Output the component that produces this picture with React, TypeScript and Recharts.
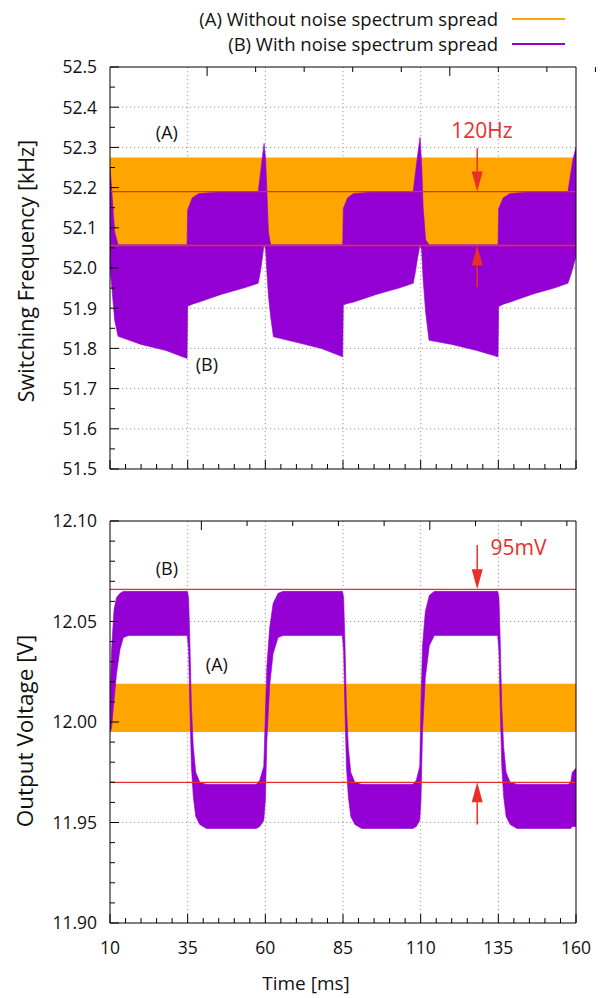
import {
  ComposedChart,
  Area,
  XAxis,
  YAxis,
  CartesianGrid,
  ReferenceLine,
  ReferenceDot,
} from "recharts";

const ORANGE = "#ffa500";
const PURPLE = "#9400d3";
const RED = "#e8302a";
const FONT = "'Open Sans', sans-serif";

// time axis
const X_MAJOR = [10, 35, 60, 85, 110, 135, 160];
const X_ALL: number[] = [];
for (let v = 10; v <= 160; v += 5) X_ALL.push(v);

// switching frequency panel
const FREQ_MAJOR = [51.5, 51.6, 51.7, 51.8, 51.9, 52.0, 52.1, 52.2, 52.3, 52.4, 52.5];
const FREQ_ALL: number[] = [];
for (let i = 0; i <= 20; i++) FREQ_ALL.push(Math.round((51.5 + i * 0.05) * 100) / 100);

const FREQ_A = [52.058, 52.275];
const FREQ_T = [
  10.0, 10.6, 11.5, 12.6, 20.0, 28.0, 34.8, 35.0, 36.5, 38.5, 46.0, 53.0, 57.7, 58.5, 59.1, 59.6,
  60.1, 60.5, 61.0, 61.7, 62.6, 70.0, 78.0, 84.9, 85.1, 86.5, 88.3, 96.0, 103.0, 107.6, 108.3,
  109.0, 109.8, 110.3, 110.8, 111.6, 112.7, 120.0, 128.0, 134.9, 135.1, 136.6, 138.7, 146.0,
  153.0, 157.4, 158.2, 159.0, 160.0,
];
const FREQ_B_LOW = [
  52.0, 51.95, 51.87, 51.83, 51.81, 51.795, 51.775, 51.905, 51.91, 51.915, 51.935, 51.95, 51.962,
  51.995, 52.028, 52.06, 52.045, 51.99, 51.93, 51.879, 51.829, 51.815, 51.8, 51.779, 51.908,
  51.912, 51.915, 51.935, 51.95, 51.962, 51.99, 52.025, 52.058, 52.045, 51.97, 51.89, 51.82,
  51.81, 51.795, 51.779, 51.904, 51.91, 51.915, 51.935, 51.95, 51.962, 51.98, 52.0, 52.03,
];
const FREQ_B_HIGH = [
  52.25, 52.19, 52.09, 52.058, 52.058, 52.058, 52.058, 52.145, 52.175, 52.185, 52.19, 52.19,
  52.19, 52.24, 52.28, 52.31, 52.27, 52.19, 52.09, 52.058, 52.058, 52.058, 52.058, 52.058, 52.148,
  52.175, 52.185, 52.19, 52.19, 52.19, 52.235, 52.28, 52.325, 52.26, 52.15, 52.07, 52.058, 52.058,
  52.058, 52.058, 52.148, 52.175, 52.185, 52.19, 52.19, 52.19, 52.23, 52.27, 52.3,
];
const FREQ_MARKS = [52.19, 52.056];

// output voltage panel
const VOLT_MAJOR = [11.9, 11.95, 12.0, 12.05, 12.1];
const VOLT_ALL: number[] = [];
for (let i = 0; i <= 20; i++) VOLT_ALL.push(Math.round((11.9 + i * 0.01) * 1000) / 1000);

const VOLT_A = [11.995, 12.019];
const VOLT_T = [
  10.0, 10.5, 11.3, 12.1, 13.2, 14.3, 16.0, 34.9, 35.3, 35.7, 36.2, 36.8, 37.6, 38.9, 41.0, 57.1,
  58.2, 59.5, 60.0, 60.5, 61.4, 62.5, 64.1, 65.7, 84.8, 85.2, 85.6, 86.1, 86.7, 87.5, 88.8, 91.0,
  107.5, 108.6, 109.7, 110.1, 110.6, 111.5, 112.8, 114.4, 134.8, 135.2, 135.6, 136.1, 136.7,
  137.5, 138.8, 141.0, 157.5, 158.3, 158.8, 160.0,
];
const VOLT_B_LOW = [
  11.995, 11.997, 12.011, 12.024, 12.036, 12.042, 12.043, 12.043, 12.035, 12.008, 11.978, 11.963,
  11.953, 11.949, 11.947, 11.947, 11.948, 11.951, 11.961, 11.991, 12.018, 12.034, 12.042, 12.043,
  12.043, 12.035, 12.008, 11.978, 11.963, 11.953, 11.949, 11.947, 11.947, 11.948, 11.951, 11.961,
  11.995, 12.022, 12.038, 12.043, 12.043, 12.035, 12.008, 11.978, 11.963, 11.953, 11.949, 11.947,
  11.947, 11.947, 11.948, 11.948,
];
const VOLT_B_HIGH = [
  12.01, 12.036, 12.056, 12.062, 12.064, 12.065, 12.065, 12.065, 12.062, 12.041, 12.008, 11.988,
  11.975, 11.97, 11.969, 11.969, 11.971, 11.978, 12.003, 12.028, 12.047, 12.059, 12.064, 12.065,
  12.065, 12.062, 12.041, 12.008, 11.988, 11.975, 11.97, 11.969, 11.969, 11.971, 11.978, 12.01,
  12.038, 12.055, 12.063, 12.065, 12.065, 12.062, 12.041, 12.008, 11.988, 11.975, 11.97, 11.969,
  11.969, 11.97, 11.975, 11.977,
];
const VOLT_MARKS = [12.066, 11.97];

const ARROW_T = 128.2;

const freqData = FREQ_T.map((t, i) => ({ t, a: FREQ_A, b: [FREQ_B_LOW[i], FREQ_B_HIGH[i]] }));
const voltData = VOLT_T.map((t, i) => ({ t, a: VOLT_A, b: [VOLT_B_LOW[i], VOLT_B_HIGH[i]] }));

const isIn = (list: number[], v: number) => list.some((m) => Math.abs(m - v) < 1e-6);

const leftTick = (major: number[], digits: number) => (p: any) => {
  const v = p.payload.value;
  const big = isIn(major, v);
  return (
    <g>
      <line x1={p.x} x2={p.x + (big ? 9 : 5)} y1={p.y} y2={p.y} stroke="#000" />
      {big && (
        <text x={p.x - 13} y={p.y} dy="0.36em" textAnchor="end" fontSize={17.5} fill="#111">
          {v.toFixed(digits)}
        </text>
      )}
    </g>
  );
};

const bottomTick = (labels: boolean) => (p: any) => {
  const v = p.payload.value;
  const big = isIn(X_MAJOR, v);
  return (
    <g>
      <line x1={p.x} x2={p.x} y1={p.y} y2={p.y - (big ? 9 : 5)} stroke="#000" />
      {labels && big && (
        <text x={p.x} y={p.y + 25} dy="0.36em" textAnchor="middle" fontSize={17.5} fill="#111">
          {v}
        </text>
      )}
    </g>
  );
};

const topTick = (p: any) => {
  const big = isIn(X_MAJOR, p.payload.value);
  return <line x1={p.x} x2={p.x} y1={p.y} y2={p.y + (big ? 9 : 5)} stroke="#000" />;
};

const textShape = (txt: string, color: string, size: number, anchor = "middle") => (p: any) => (
  <text x={p.cx} y={p.cy} dy="0.36em" textAnchor={anchor} fontSize={size} fill={color}>
    {txt}
  </text>
);

const headDown = (p: any) => (
  <path d={`M${p.cx},${p.cy} l-5.5,-20 l11,0 z`} fill={RED} />
);
const headUp = (p: any) => (
  <path d={`M${p.cx},${p.cy} l-5.5,20 l11,0 z`} fill={RED} />
);

type PanelProps = {
  data: any[];
  domain: number[];
  yAll: number[];
  yMajor: number[];
  digits: number;
  marks: number[];
  height: number;
  margin: any;
  xLabels: boolean;
  children?: any;
};

function Panel({ data, domain, yAll, yMajor, digits, marks, height, margin, xLabels, children }: PanelProps) {
  return (
    <ComposedChart width={604} height={height} data={data} margin={margin}>
      <CartesianGrid
        horizontalValues={yMajor.slice(1, -1)}
        verticalValues={X_MAJOR.slice(1, -1)}
        stroke="#9a9a9a"
        strokeDasharray="1.2 2.8"
      />
      <Area
        dataKey="a"
        type="linear"
        stroke="none"
        fill={ORANGE}
        fillOpacity={1}
        isAnimationActive={false}
        dot={false}
        activeDot={false}
      />
      <Area
        dataKey="b"
        type="linear"
        stroke={PURPLE}
        strokeWidth={0.6}
        fill={PURPLE}
        fillOpacity={1}
        isAnimationActive={false}
        dot={false}
        activeDot={false}
      />
      {marks.map((m) => (
        <ReferenceLine key={m} y={m} stroke={RED} strokeWidth={1.3} />
      ))}
      {/* right frame edge */}
      <ReferenceLine x={160} stroke="#000" strokeWidth={1} />
      <XAxis
        dataKey="t"
        type="number"
        domain={[10, 160]}
        allowDataOverflow
        ticks={X_ALL}
        interval={0}
        tickSize={0}
        tickMargin={0}
        height={1}
        tick={bottomTick(xLabels)}
        stroke="#000"
      />
      <XAxis
        xAxisId="top"
        orientation="top"
        type="number"
        domain={[10, 160]}
        allowDataOverflow
        ticks={X_ALL}
        interval={0}
        tickSize={0}
        tickMargin={0}
        height={1}
        tick={topTick}
        stroke="#000"
      />
      <YAxis
        type="number"
        domain={domain}
        allowDataOverflow
        ticks={yAll}
        interval={0}
        tickSize={0}
        tickMargin={0}
        width={1}
        tick={leftTick(yMajor, digits)}
        stroke="#000"
      />
      {children}
    </ComposedChart>
  );
}

export default function App() {
  return (
    <div
      style={{
        position: "absolute",
        left: 0,
        top: 0,
        width: 604,
        height: 998,
        background: "#fff",
        fontFamily: FONT,
        color: "#111",
      }}
    >
      {/* legend */}
      <div style={{ position: "absolute", right: 106, top: 6, fontSize: 18.5, lineHeight: "25px", textAlign: "right" }}>
        <div>(A) Without noise spectrum spread</div>
        <div>(B) With noise spectrum spread</div>
      </div>
      <div style={{ position: "absolute", left: 512, top: 18, width: 53, height: 1.5, background: ORANGE }} />
      <div style={{ position: "absolute", left: 512, top: 43, width: 53, height: 1.5, background: PURPLE }} />

      {/* axis titles */}
      <div
        style={{
          position: "absolute",
          left: 25,
          top: 271,
          fontSize: 21.5,
          whiteSpace: "nowrap",
          transform: "translate(-50%, -50%) rotate(-90deg)",
        }}
      >
        Switching Frequency [kHz]
      </div>
      <div
        style={{
          position: "absolute",
          left: 24,
          top: 731,
          fontSize: 22.5,
          whiteSpace: "nowrap",
          transform: "translate(-50%, -50%) rotate(-90deg)",
        }}
      >
        Output Voltage [V]
      </div>
      <div
        style={{
          position: "absolute",
          left: 306,
          top: 983,
          fontSize: 19,
          whiteSpace: "nowrap",
          transform: "translate(-50%, -50%)",
        }}
      >
        Time [ms]
      </div>

      <div style={{ position: "absolute", left: 0, top: 0 }}>
        <Panel
          data={freqData}
          domain={[51.5, 52.5]}
          yAll={FREQ_ALL}
          yMajor={FREQ_MAJOR}
          digits={1}
          marks={FREQ_MARKS}
          height={500}
          margin={{ top: 66, right: 28, bottom: 30, left: 109 }}
          xLabels={false}
        >
          <ReferenceDot x={28.3} y={52.336} r={0} shape={textShape("(A)", "#111", 18)} />
          <ReferenceDot x={41.2} y={51.759} r={0} shape={textShape("(B)", "#111", 18)} />
          <ReferenceDot x={129.7} y={52.343} r={0} shape={textShape("120Hz", RED, 21)} />
          <ReferenceLine
            segment={[
              { x: ARROW_T, y: 52.298 },
              { x: ARROW_T, y: 52.24 },
            ]}
            stroke={RED}
            strokeWidth={1.5}
          />
          <ReferenceDot x={ARROW_T} y={FREQ_MARKS[0]} r={0} shape={headDown} />
          <ReferenceLine
            segment={[
              { x: ARROW_T, y: 52.01 },
              { x: ARROW_T, y: 51.953 },
            ]}
            stroke={RED}
            strokeWidth={1.5}
          />
          <ReferenceDot x={ARROW_T} y={FREQ_MARKS[1]} r={0} shape={headUp} />
        </Panel>
      </div>

      <div style={{ position: "absolute", left: 0, top: 500 }}>
        <Panel
          data={voltData}
          domain={[11.9, 12.1]}
          yAll={VOLT_ALL}
          yMajor={VOLT_MAJOR}
          digits={2}
          marks={VOLT_MARKS}
          height={498}
          margin={{ top: 20, right: 28, bottom: 74, left: 109 }}
          xLabels={true}
        >
          <ReferenceDot x={28.3} y={12.0766} r={0} shape={textShape("(B)", "#111", 18)} />
          <ReferenceDot x={44.4} y={12.0284} r={0} shape={textShape("(A)", "#111", 18)} />
          <ReferenceDot x={132.5} y={12.0866} r={0} shape={textShape("95mV", RED, 21, "start")} />
          <ReferenceLine
            segment={[
              { x: ARROW_T, y: 12.088 },
              { x: ARROW_T, y: 12.075 },
            ]}
            stroke={RED}
            strokeWidth={1.5}
          />
          <ReferenceDot x={ARROW_T} y={VOLT_MARKS[0]} r={0} shape={headDown} />
          <ReferenceLine
            segment={[
              { x: ARROW_T, y: 11.962 },
              { x: ARROW_T, y: 11.949 },
            ]}
            stroke={RED}
            strokeWidth={1.5}
          />
          <ReferenceDot x={ARROW_T} y={VOLT_MARKS[1]} r={0} shape={headUp} />
        </Panel>
      </div>
    </div>
  );
}
